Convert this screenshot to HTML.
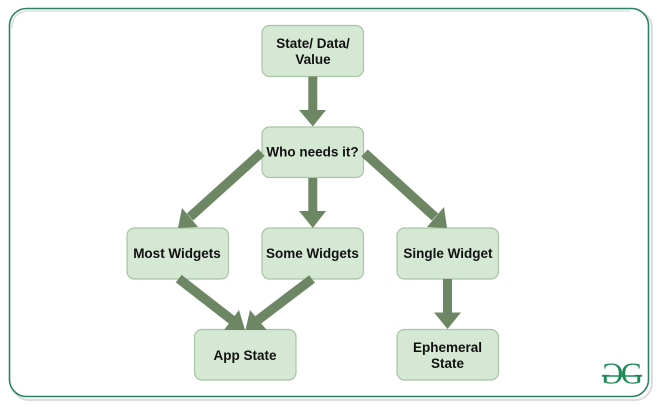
<!DOCTYPE html>
<html>
<head>
<meta charset="utf-8">
<style>
html,body{margin:0;padding:0;background:#fff;width:660px;height:407px;overflow:hidden}
svg{display:block}
text{font-family:"Liberation Sans",sans-serif;font-weight:bold;font-size:13.5px;fill:#111;text-anchor:middle}
.b{fill:#d5e8d4;stroke:#a8c4a3;stroke-width:1.2}
.s{stroke:#6d8764;stroke-width:9;fill:none}
.d{stroke:#6d8764;stroke-width:9.5;fill:none}
.h{fill:#6d8764}
.g{font-family:"Liberation Serif",serif;font-weight:normal;font-size:31px;fill:#1d8a55}
</style>
</head>
<body>
<svg width="660" height="407" viewBox="0 0 660 407" xmlns="http://www.w3.org/2000/svg">
<rect x="12" y="11" width="640" height="389" rx="17" fill="none" stroke="#dcdcdc" stroke-width="2"/>
<rect x="9.5" y="8.5" width="639" height="388" rx="17" fill="#fff" stroke="#2b8460" stroke-width="1.6"/>
<path d="M12 28Q12 12 28 11H630" fill="none" stroke="#dedede" stroke-width="1.5"/>

<rect class="b" x="262" y="25.5" width="101.5" height="51" rx="7.5"/>
<rect class="b" x="262" y="127" width="101.5" height="50.5" rx="7.5"/>
<rect class="b" x="127" y="228" width="101.5" height="51" rx="7.5"/>
<rect class="b" x="262" y="228" width="101.5" height="51" rx="7.5"/>
<rect class="b" x="397" y="228" width="101.5" height="51" rx="7.5"/>
<rect class="b" x="194.5" y="329.5" width="101.5" height="50.5" rx="7.5"/>
<rect class="b" x="397" y="329.5" width="101.5" height="50.5" rx="7.5"/>

<line class="s" x1="312.8" y1="76.5" x2="312.8" y2="112"/>
<polygon class="h" points="299,110 326,110 312.8,126.5"/>
<line class="s" x1="312.8" y1="178" x2="312.8" y2="213"/>
<polygon class="h" points="299,211 326,211 312.8,228"/>
<line class="s" x1="447.5" y1="279" x2="447.5" y2="314"/>
<polygon class="h" points="434,312.5 461,312.5 447.5,329"/>
<line class="d" x1="261.5" y1="152.5" x2="190" y2="217"/>
<polygon class="h" points="182,208 198,227 178,228"/>
<line class="d" x1="364.5" y1="153" x2="435" y2="217"/>
<polygon class="h" points="444,207 427,227 447,228"/>
<line class="d" x1="178.7" y1="278.6" x2="232" y2="320"/>
<polygon class="h" points="239,310 224,330 245,330"/>
<line class="d" x1="312" y1="279" x2="258" y2="320"/>
<polygon class="h" points="250,310 266.7,330 245.5,330"/>

<text x="313" y="48">State/ Data/</text>
<text x="313" y="64">Value</text>
<text x="312.500" y="156.500">Who needs it?</text>
<text x="177" y="258">Most Widgets</text>
<text x="312.500" y="258">Some Widgets</text>
<text x="448" y="258">Single Widget</text>
<text x="245" y="360">App State</text>
<text x="447.500" y="352">Ephemeral</text>
<text x="447.500" y="368">State</text>

<text class="g" transform="translate(612,383.500) scale(-1,1)">G</text>
<text class="g" x="632" y="383.500">G</text>
<line x1="602" y1="376" x2="642" y2="376" stroke="#1d8a55" stroke-width="1.5"/>
</svg>
</body>
</html>
